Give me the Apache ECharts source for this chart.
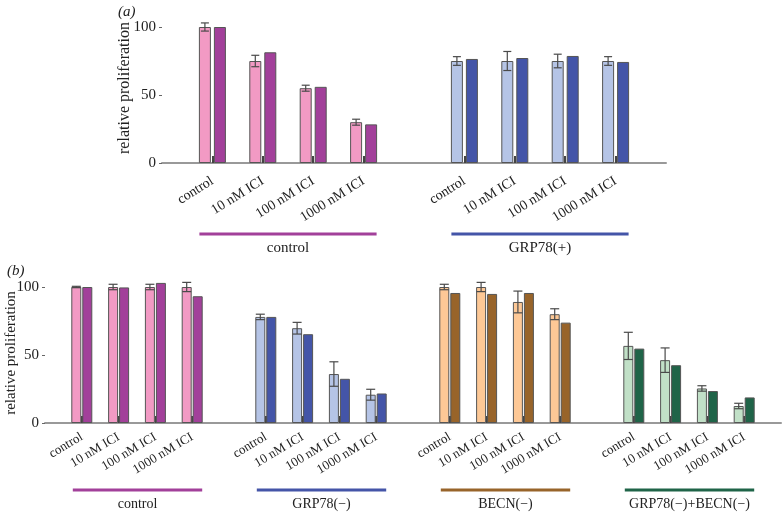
<!DOCTYPE html>
<html>
<head>
<meta charset="utf-8">
<script src="https://cdn.jsdelivr.net/npm/echarts@6/dist/echarts.min.js"></script>
<style>
  html, body { margin: 0; padding: 0; background: #fff; }
  #chart { width: 782px; height: 513px; }
</style>
</head>
<body>
<div id="chart"></div>
<script>
// panel (a)
var catsA = ['', 'control', '10 nM ICI', '100 nM ICI', '1000 nM ICI', '',
  'control', '10 nM ICI', '100 nM ICI', '1000 nM ICI', ''];
var lightA = [null, 100, 75, 55, 30, null, 75, 75, 75, 75, null];
var errA = [null, 3, 4.2, 2.2, 2.2, null, 3.2, 7, 5, 3.2, null];
var darkA = [null, 100, 81.4, 56, 28.4, null, 76.5, 77.2, 78.7, 74.3, null];
var groupsA = ['control', 'GRP78(+)'];

// panel (b)
var catsB = ['', 'control', '10 nM ICI', '100 nM ICI', '1000 nM ICI', '',
  'control', '10 nM ICI', '100 nM ICI', '1000 nM ICI', '',
  'control', '10 nM ICI', '100 nM ICI', '1000 nM ICI', '',
  'control', '10 nM ICI', '100 nM ICI', '1000 nM ICI', ''];
var lightB = [null, 100, 100, 100, 100, null, 78, 69.7, 36, 20.8, null,
  100, 100, 89, 80, null, 56.7, 46.2, 25.4, 12.5, null];
var errB = [null, 0.5, 2, 2, 3.4, null, 2, 4.3, 9, 4, null,
  2, 3.4, 8, 4, null, 10, 9, 2, 2, null];
var darkB = [null, 100, 99.7, 103, 93.2, null, 78, 65.3, 32.5, 21.7, null,
  95.6, 94.9, 95.6, 73.8, null, 54.7, 42.5, 23.5, 18.8, null];
var groupsB = ['control', 'GRP78(\u2212)', 'BECN(\u2212)', 'GRP78(\u2212)+BECN(\u2212)'];

// colours per group: [light, dark]
var palA = [['#f29ac4', '#a2409a'], ['#b5c4e6', '#4455a8']];
var palB = [['#f29ac4', '#a2409a'], ['#b5c4e6', '#4455a8'],
  ['#fdc896', '#98642a'], ['#c1e0c7', '#1f6448']];

var FONT = 'Liberation Serif';

function groupOf(i) { return Math.max(0, Math.floor((i - 1) / 5)); }

function errItem(offset, half) {
  return function (params, api) {
    var idx = api.value(0), v = api.value(1), e = api.value(2);
    var top = api.coord([idx, v + e]);
    var bot = api.coord([idx, v - e]);
    var x = top[0] + offset;
    var st = { stroke: '#4a4a4a', lineWidth: 1.2 };
    return {
      type: 'group',
      children: [
        { type: 'line', shape: { x1: x, y1: top[1], x2: x, y2: bot[1] }, style: st },
        { type: 'line', shape: { x1: x - half, y1: top[1], x2: x + half, y2: top[1] }, style: st },
        { type: 'line', shape: { x1: x - half, y1: bot[1], x2: x + half, y2: bot[1] }, style: st }
      ]
    };
  };
}

function errData(vals, errs) {
  var out = [];
  vals.forEach(function (v, i) { if (v != null) out.push([i, v, errs[i]]); });
  return out;
}

function xAxisOf(idx, cats, fontSize, rot, margin) {
  return {
    type: 'category', gridIndex: idx, data: cats, boundaryGap: false,
    axisLine: { lineStyle: { color: '#999', width: 2 } },
    axisTick: {
      inside: true, length: 7, lineStyle: { color: '#444', width: 2 },
      interval: function (i, v) { return v !== ''; }
    },
    axisLabel: {
      interval: 0, rotate: rot, margin: margin, color: '#222',
      fontFamily: FONT, fontSize: fontSize
    },
    splitLine: { show: false }
  };
}

function yAxisOf(idx, gap, nameSize, shift) {
  return {
    type: 'value', gridIndex: idx, min: 0, max: 100, interval: 50,
    name: 'relative proliferation', nameLocation: 'middle', nameGap: gap,
    nameMoveOverlap: false,
    nameTextStyle: { fontFamily: FONT, fontSize: nameSize, color: '#222',
      padding: [0, 0, 0, shift] },
    axisLine: { show: false },
    axisTick: { show: true, length: 3, lineStyle: { color: '#666' } },
    axisLabel: { color: '#222', fontFamily: FONT, fontSize: 15, margin: 6 },
    splitLine: { show: false }
  };
}

function barSeries(idx, vals, pal, which, width, gap) {
  return {
    type: 'bar', xAxisIndex: idx, yAxisIndex: idx, data: vals,
    barWidth: width, barGap: gap, clip: false, z: 3,
    itemStyle: {
      borderColor: '#555', borderWidth: 1,
      color: function (p) { return pal[groupOf(p.dataIndex)][which]; }
    }
  };
}

var chart = echarts.init(document.getElementById('chart'));
chart.setOption({
  backgroundColor: '#fff',
  animation: false,
  title: [
    { text: '(a)', left: 113, top: 0, textStyle: { fontFamily: FONT, fontSize: 15, fontWeight: 'normal', fontStyle: 'italic', color: '#222' } },
    { text: '(b)', left: 2, top: 259, textStyle: { fontFamily: FONT, fontSize: 15, fontWeight: 'normal', fontStyle: 'italic', color: '#222' } }
  ],
  grid: [
    { left: 162, top: 27, width: 504, height: 136, outerBoundsMode: 'none' },
    { left: 45, top: 287, width: 736, height: 136, outerBoundsMode: 'none' }
  ],
  xAxis: [xAxisOf(0, catsA, 14, 32, 17), xAxisOf(1, catsB, 13, 31, 13)],
  yAxis: [yAxisOf(0, 29, 16, 14), yAxisOf(1, 26, 15, 4)],
  series: [
    barSeries(0, lightA, palA, 0, 12, '25%'),
    barSeries(0, darkA, palA, 1, 12, '25%'),
    {
      type: 'custom', xAxisIndex: 0, yAxisIndex: 0, z: 5,
      renderItem: errItem(-7.5, 4), data: errData(lightA, errA)
    },
    barSeries(1, lightB, palB, 0, 10, '10%'),
    barSeries(1, darkB, palB, 1, 10, '10%'),
    {
      type: 'custom', xAxisIndex: 1, yAxisIndex: 1, z: 5,
      renderItem: errItem(-5.5, 4.5), data: errData(lightB, errB)
    }
  ]
});

// group underline bars and labels, placed from the axis scale
function groupMarks(gi, groups, pal, padL, padR, lineY, textY, fs) {
  var els = [];
  groups.forEach(function (name, g) {
    var first = 1 + g * 5, last = first + 3;
    var x1 = chart.convertToPixel({ xAxisIndex: gi }, first) - padL;
    var x2 = chart.convertToPixel({ xAxisIndex: gi }, last) + padR;
    els.push({
      type: 'line', shape: { x1: x1, y1: lineY, x2: x2, y2: lineY },
      style: { stroke: pal[g][1], lineWidth: 3 }
    });
    els.push({
      type: 'text', x: (x1 + x2) / 2, y: textY,
      style: { text: name, fontFamily: FONT, fontSize: fs, fill: '#222',
        align: 'center', verticalAlign: 'middle' }
    });
  });
  return els;
}

var gfx = groupMarks(0, groupsA, palA, 13, 13, 234, 248, 15)
  .concat(groupMarks(1, groupsB, palB, 9, 10, 490, 504, 14));
chart.setOption({ graphic: gfx });
</script>
</body>
</html>
